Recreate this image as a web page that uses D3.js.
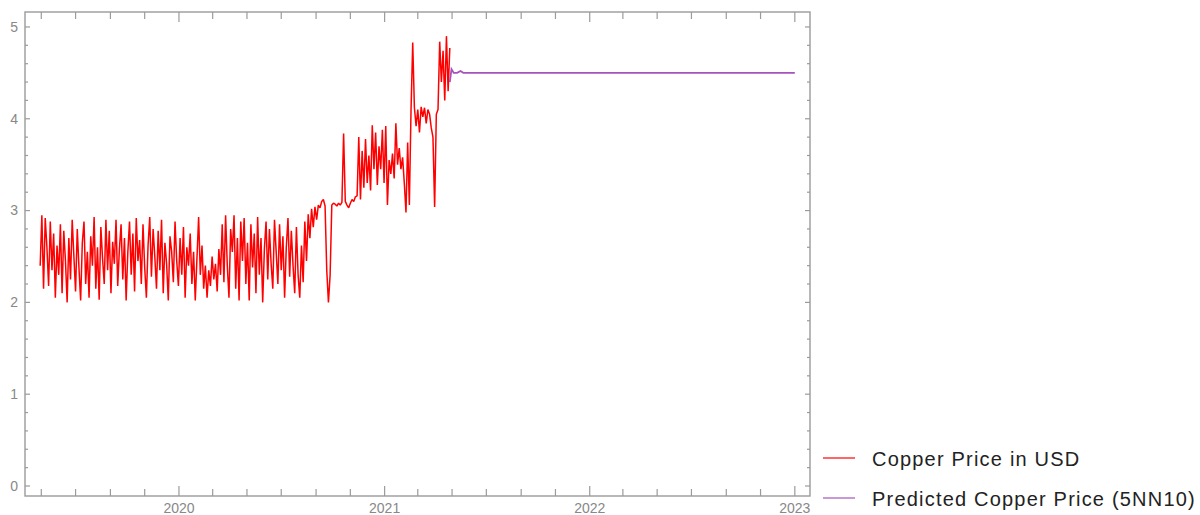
<!DOCTYPE html>
<html>
<head>
<meta charset="utf-8">
<script src="https://cdn.jsdelivr.net/npm/d3@7"></script>
<style>
  html, body { margin: 0; padding: 0; background: #fff; }
  svg { display: block; font-family: "Liberation Sans", Arial, sans-serif; }
</style>
</head>
<body>
<div id="chart"></div>
<script>
// Copper price (USD), one reading every 3 days from START_DATE
const START_DATE = '2019-04-29';
const STEP_DAYS  = 3;
const copperPrice = [
  2.40, 2.95, 2.15, 2.92, 2.60, 2.18, 2.88, 2.35, 2.75, 2.05,
  2.62, 2.30, 2.85, 2.10, 2.78, 2.45, 2.00, 2.70, 2.25, 2.90,
  2.50, 2.12, 2.80, 2.38, 2.02, 2.65, 2.88, 2.20, 2.55, 2.05,
  2.72, 2.40, 2.93, 2.15, 2.60, 2.03, 2.82, 2.48, 2.20, 2.90,
  2.35, 2.78, 2.10, 2.66, 2.42, 2.90, 2.18, 2.58, 2.85, 2.25,
  2.70, 2.02, 2.55, 2.88, 2.30, 2.75, 2.12, 2.92, 2.45, 2.68,
  2.20, 2.85, 2.38, 2.05, 2.62, 2.93, 2.28, 2.80, 2.50, 2.15,
  2.78, 2.35, 2.90, 2.10, 2.65, 2.42, 2.02, 2.72, 2.55, 2.22,
  2.88, 2.45, 2.18, 2.70, 2.30, 2.82, 2.05, 2.60, 2.40, 2.75,
  2.20, 2.55, 2.02, 2.48, 2.93, 2.30, 2.62, 2.15, 2.40, 2.05,
  2.35, 2.18, 2.50, 2.25, 2.42, 2.12, 2.58, 2.30, 2.85, 2.22,
  2.95, 2.40, 2.05, 2.80, 2.55, 2.95, 2.15, 2.70, 2.02, 2.88,
  2.45, 2.92, 2.20, 2.65, 2.02, 2.85, 2.38, 2.75, 2.10, 2.93,
  2.30, 2.70, 2.00, 2.58, 2.88, 2.25, 2.80, 2.42, 2.15, 2.90,
  2.55, 2.20, 2.85, 2.35, 2.72, 2.05, 2.60, 2.92, 2.28, 2.78,
  2.40, 2.10, 2.82, 2.30,
  // Aug-Sep 2020: climbing to ~3.1
  2.05, 2.62, 2.22, 2.88, 2.45, 2.96, 2.70, 3.02, 2.82, 3.04,
  2.90, 3.06, 3.03, 3.10, 3.12, 3.05,
  // late Sep dip, then flat ~3.1 with a single spike
  2.35, 2.00, 2.30, 3.06, 3.08, 3.07, 3.05, 3.08, 3.06, 3.09,
  3.84, 3.10, 3.06, 3.03, 3.08, 3.12, 3.10, 3.15, 3.16,
  // Nov 2020 - Feb 2021
  3.80, 3.12, 3.65, 3.25, 3.78, 3.30, 3.60, 3.22, 3.93, 3.45,
  3.85, 3.28, 3.70, 3.45, 3.88, 3.30, 3.92, 3.06, 3.55, 3.40,
  3.62, 3.35, 3.95, 3.50, 3.68, 3.45, 3.58, 3.30, 2.98, 3.74,
  3.06,
  // Feb - Apr 2021
  4.10, 4.83, 4.12, 3.92, 4.10, 3.85, 4.13, 4.02, 4.12, 3.95,
  4.10, 4.05, 3.90, 3.80, 3.04, 4.05, 4.10, 4.84, 4.40, 4.74,
  4.20, 4.90, 4.30, 4.77,
];

const predictedDates = ['2021-04-27', '2021-04-30', '2021-05-04', '2021-05-10', '2021-05-16', '2021-05-21', '2023-01-01'];
const predictedPrice = [4.40, 4.54, 4.50, 4.50, 4.52, 4.50, 4.50];

const yearTicks  = [2020, 2021, 2022, 2023];
const yMajorTicks = [0, 1, 2, 3, 4, 5];

const legendLabels = ['Copper Price in USD', 'Predicted Copper Price (5NN10)'];
const RED    = '#ff0000';
const PURPLE = '#a653bd';
const FRAME  = '#9b9b9b';
const LABEL  = '#888888';

function renderChart(container) {
  const W = 1200, H = 515;
  const frame = { left: 25, right: 810, top: 12, bottom: 496 };

  const parse = d3.utcParse('%Y-%m-%d');
  const start = parse(START_DATE);
  const actual = copperPrice.map((v, i) => ({ date: d3.utcDay.offset(start, i * STEP_DAYS), value: v }));
  const predicted = predictedDates.map((d, i) => ({ date: parse(d), value: predictedPrice[i] }));

  const x = d3.scaleUtc()
    .domain([parse('2019-04-02'), parse('2023-01-28')])
    .range([frame.left, frame.right]);
  const y = d3.scaleLinear()
    .domain([-0.109, 5.163])
    .range([frame.bottom, frame.top]);

  const svg = d3.select(container).append('svg').attr('width', W).attr('height', H);

  // ticks: major years + every 2 months, y integers + 0.2 steps
  const yearDates  = yearTicks.map(yr => new Date(Date.UTC(yr, 0, 1)));
  const monthDates = d3.utcMonth.every(2).range(x.domain()[0], x.domain()[1])
    .filter(d => d.getUTCMonth() !== 0);
  const yMinor = d3.range(0, 5.2, 0.2).map(v => +v.toFixed(1)).filter(v => !yMajorTicks.includes(v));

  const ticks = svg.append('g').attr('stroke', FRAME).attr('stroke-width', 1.2);
  const xTick = (d, len) => {
    ticks.append('line').attr('x1', x(d)).attr('x2', x(d)).attr('y1', frame.bottom).attr('y2', frame.bottom - len);
    ticks.append('line').attr('x1', x(d)).attr('x2', x(d)).attr('y1', frame.top).attr('y2', frame.top + len);
  };
  const yTick = (v, len) => {
    ticks.append('line').attr('x1', frame.left).attr('x2', frame.left + len).attr('y1', y(v)).attr('y2', y(v));
    ticks.append('line').attr('x1', frame.right).attr('x2', frame.right - len).attr('y1', y(v)).attr('y2', y(v));
  };
  yearDates.forEach(d => xTick(d, 10));
  monthDates.forEach(d => xTick(d, 7));
  yMajorTicks.forEach(v => yTick(v, 5));
  yMinor.forEach(v => yTick(v, 3));

  // Frame
  svg.append('rect')
    .attr('x', frame.left).attr('y', frame.top)
    .attr('width', frame.right - frame.left).attr('height', frame.bottom - frame.top)
    .attr('fill', 'none').attr('stroke', FRAME).attr('stroke-width', 1.4);

  // Tick labels
  svg.append('g').selectAll('text').data(yMajorTicks).join('text')
    .attr('x', 18).attr('y', d => y(d)).attr('dy', '0.35em')
    .attr('text-anchor', 'end').attr('fill', LABEL).style('font-size', '14px')
    .text(d => d);
  svg.append('g').selectAll('text').data(yearDates).join('text')
    .attr('x', d => x(d)).attr('y', 513)
    .attr('text-anchor', 'middle').attr('fill', LABEL).style('font-size', '14px')
    .text(d => d.getUTCFullYear());

  // Lines
  const line = d3.line().x(d => x(d.date)).y(d => y(d.value));
  svg.append('path').datum(actual)
    .attr('d', line).attr('fill', 'none').attr('stroke', RED).attr('stroke-width', 1.5)
    .attr('stroke-linejoin', 'bevel');
  svg.append('path').datum(predicted)
    .attr('d', line).attr('fill', 'none').attr('stroke', PURPLE).attr('stroke-width', 1.8);

  // Legend
  const legend = svg.append('g');
  [RED, PURPLE].forEach((c, i) => {
    const ly = 458 + i * 40;
    legend.append('line').attr('x1', 823).attr('x2', 855).attr('y1', ly).attr('y2', ly)
      .attr('stroke', c).attr('stroke-width', 1.6).attr('stroke-opacity', 0.75);
    legend.append('text').attr('x', 872).attr('y', ly + 8)
      .attr('fill', '#222').style('font-size', '20px').style('letter-spacing', '1.2px')
      .text(legendLabels[i]);
  });
}

renderChart(document.getElementById('chart'));
</script>
</body>
</html>
